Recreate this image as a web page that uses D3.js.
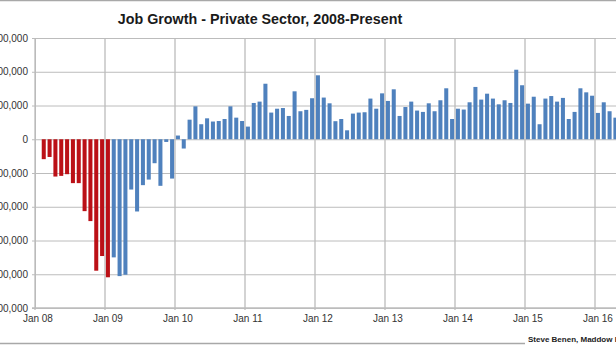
<!DOCTYPE html>
<html><head><meta charset="utf-8">
<script src="https://cdn.jsdelivr.net/npm/d3@7"></script>
<style>
html,body{margin:0;padding:0;background:#fff;overflow:hidden;}
svg{display:block;font-family:"Liberation Sans",Arial,sans-serif;}
</style></head>
<body>
<svg id="chart" width="616" height="346"></svg>
<script>
// ---- data (private-sector monthly job change, persons) ----
const title = "Job Growth - Private Sector, 2008-Present";
const credit = "Steve Benen, Maddow Blog";
const firstMonth = "2008-01";
const jobs = [
  // 2008
  0, -118000, -105000, -221000, -217000, -207000, -260000, -260000, -426000, -485000, -779000, -692000,
  // 2009
  -818000, -700000, -811000, -803000, -298000, -428000, -272000, -239000, -142000, -276000, -16000, -233000,
  // 2010
  22000, -55000, 116000, 195000, 89000, 124000, 105000, 108000, 120000, 195000, 128000, 108000,
  // 2011
  75000, 215000, 223000, 329000, 158000, 181000, 185000, 138000, 284000, 166000, 174000, 243000,
  // 2012
  379000, 247000, 213000, 107000, 120000, 53000, 152000, 158000, 160000, 241000, 181000, 272000,
  // 2013
  227000, 296000, 138000, 191000, 223000, 170000, 162000, 213000, 166000, 231000, 302000, 120000,
  // 2014
  181000, 176000, 219000, 310000, 235000, 270000, 241000, 207000, 231000, 215000, 412000, 320000,
  // 2015
  211000, 252000, 89000, 241000, 256000, 223000, 245000, 120000, 162000, 302000, 278000, 258000,
  // 2016
  156000, 219000, 166000, 128000
];
const lastRedMonth = "2009-01";           // bars up to this month are red
const xTickLabels = ["Jan 08","Jan 09","Jan 10","Jan 11","Jan 12","Jan 13","Jan 14","Jan 15","Jan 16"];
const yTicks = [600000, 400000, 200000, 0, -200000, -400000, -600000, -800000, -1000000];
const colors = { red: "#bb1016", blue: "#4f81bd", grid: "#bcbcbc", text: "#333" };

// ---- categories ----
const fmtKey = d3.timeFormat("%Y-%m");
const parseKey = d3.timeParse("%Y-%m");
const start = parseKey(firstMonth);
const months = jobs.map((v, i) => fmtKey(d3.timeMonth.offset(start, i)));
const data = months.map((m, i) => ({ month: m, value: jobs[i] }));

// ---- layout ----
const svg = d3.select("#chart");
const W = 616, H = 346;
const plotLeft = 35, plotTop = 38, plotBottom = 308;
const monthW = 70 / 12;

const x = d3.scaleBand()
  .domain(months)
  .range([plotLeft, plotLeft + months.length * monthW])
  .paddingInner(0.31).paddingOuter(0.155);
const y = d3.scaleLinear().domain([-1000000, 600000]).range([plotBottom, plotTop]);

// border lines
svg.append("line").attr("x1", 0).attr("x2", W).attr("y1", 0.5).attr("y2", 0.5)
  .attr("stroke", "#a8a8a8").attr("stroke-width", 1.5);
svg.append("line").attr("x1", 0).attr("x2", 525).attr("y1", 343.5).attr("y2", 343.5)
  .attr("stroke", "#a8a8a8").attr("stroke-width", 1.5);

// title
svg.append("text").attr("x", 260).attr("y", 23.5).attr("text-anchor", "middle")
  .attr("font-size", 14.3).attr("font-weight", "bold").attr("fill", "#1a1a1a").text(title);

// horizontal grid + y axis
const yAxis = d3.axisLeft(y).tickValues(yTicks).tickSize(-(W - plotLeft + 10)).tickPadding(7)
  .tickFormat(d3.format(",.0f"));
const gy = svg.append("g").attr("transform", `translate(${plotLeft},0)`).call(yAxis);
gy.select(".domain").attr("stroke", colors.grid);
gy.selectAll(".tick line").attr("stroke", colors.grid).attr("x1", -3);
gy.selectAll(".tick text").attr("font-size", 10).attr("fill", colors.text)
  .attr("font-family", "Liberation Sans, Arial, sans-serif");

// vertical grid at each January
const janMonths = months.filter(m => m.endsWith("-01"));
svg.append("g").selectAll("line").data(janMonths).join("line")
  .attr("x1", d => x(d) - x.step() * x.paddingOuter())
  .attr("x2", d => x(d) - x.step() * x.paddingOuter())
  .attr("y1", plotTop).attr("y2", plotBottom + 2)
  .attr("stroke", colors.grid).attr("stroke-width", 1.3);

// bottom axis line
svg.append("line").attr("x1", plotLeft - 3).attr("x2", W).attr("y1", y(-1000000)).attr("y2", y(-1000000))
  .attr("stroke", colors.grid).attr("stroke-width", 1.3);

// x tick labels centred under January bands
svg.append("g").selectAll("text").data(janMonths).join("text")
  .attr("x", d => x(d) + x.bandwidth() / 2)
  .attr("y", 322)
  .attr("text-anchor", "middle").attr("font-size", 10).attr("fill", colors.text)
  .text((d, i) => xTickLabels[i]);

// bars
svg.append("g").selectAll("rect").data(data.filter(d => d.value !== 0)).join("rect")
  .attr("x", d => x(d.month))
  .attr("width", x.bandwidth())
  .attr("y", d => y(Math.max(0, d.value)))
  .attr("height", d => Math.abs(y(d.value) - y(0)))
  .attr("fill", d => d.month <= lastRedMonth ? colors.red : colors.blue);

// credit
svg.append("text").attr("x", 528).attr("y", 342).attr("font-size", 8).attr("font-weight", "bold")
  .attr("fill", "#222").text(credit);
</script>
</body></html>
